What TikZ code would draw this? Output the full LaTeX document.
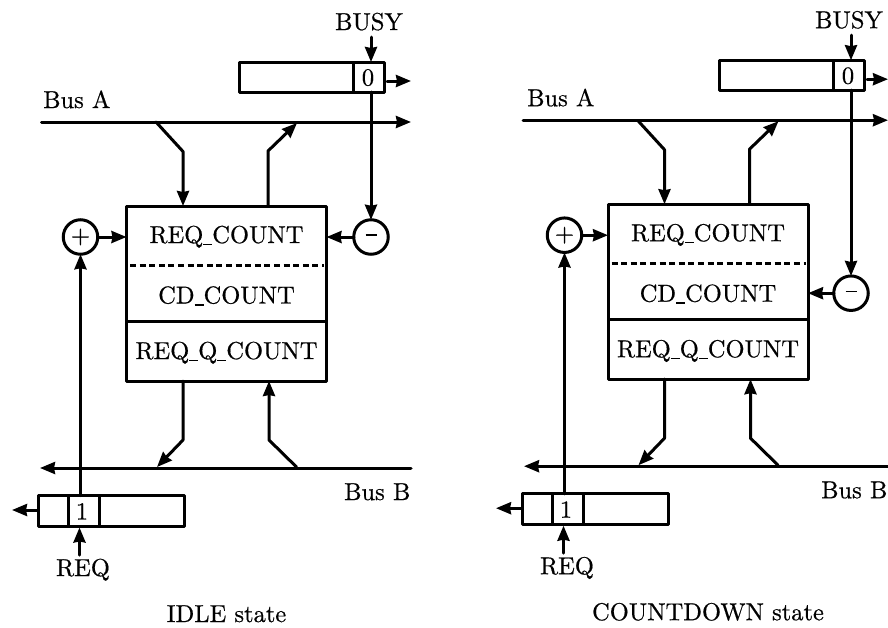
\documentclass[tikz,border=0pt]{standalone}
\usepackage{fontspec}
\newfontfamily\dfont{Latin Modern Roman}[OpticalSize=10,FakeBold=0.6]
\usetikzlibrary{arrows.meta}
\tikzset{
  x=1pt,y=-1pt,
  ln/.style={line width=3pt,line cap=round,line join=round},
  arr/.style={ln,-{Stealth[length=15pt,width=12pt,inset=1pt]}},
  frame/.style={draw,line width=3pt,line join=round,inner sep=0pt,outer sep=0pt},
  op/.style={draw,circle,line width=3pt,minimum size=34.5pt,inner sep=0pt,outer sep=0pt},
  txt/.style={font=\fontsize{24.5}{26}\dfont,inner sep=0pt,anchor=base}
}
\newcommand{\usc}{\rule[-2.2pt]{9pt}{1.6pt}}
\newcommand{\onepanel}[2]{%
  % #1 = state text, #2 = y of the minus circle
  \node[txt] (busy) at (369+\tx,30) {BUSY};
  \node[txt,anchor=base west] (busa) at (43+\lx,108) {Bus A};
  \node[txt] (req) at (83+\lx,576) {REQ};
  \coordinate (aL) at (41.5,122);
  \coordinate (aR) at (\re,122);
  \coordinate (bL) at (40+\lx,468);
  \coordinate (bS) at (\ifdim\re pt<411pt 420\else 411\fi,468);
  \draw[arr] (aL) -- (aR);
  \draw[arr] (bS) -- (bL);
  % main box
  \node[frame,minimum width=200pt,minimum height=175pt,anchor=north west] (main) at (126.5,206) {};
  \coordinate (dl) at (130,265.5); \coordinate (dr) at (324,265.5);
  \coordinate (sl) at (126.5,321.5); \coordinate (sr) at (326.5,321.5);
  \draw[line width=2.6pt,dash pattern=on 6pt off 3.6pt] (dl) -- (dr);
  \draw[line width=3pt] (sl) -- (sr);
  \node[txt] (rc) at (226.5,243) {REQ\usc COUNT};
  \node[txt] (cd) at (226.5,303.5) {CD\usc COUNT};
  \node[txt] (rq) at (226.5,359) {REQ\usc Q\usc COUNT};
  % bus A branches
  \coordinate (a1) at (156,122); \coordinate (a2) at (183,151.5); \coordinate (a3) at (183,206);
  \coordinate (a4) at (268,206); \coordinate (a5) at (268,151); \coordinate (a6) at (297,123);
  \draw[arr] (a1) -- (a2) -- (a3);
  \draw[arr] (a4) -- (a5) -- (a6);
  % bus B branches
  \coordinate (b1) at (183,381); \coordinate (b2) at (183,440); \coordinate (b3) at (157,467);
  \coordinate (b4) at (296.5,467); \coordinate (b5) at (269,440); \coordinate (b6) at (269,381);
  \draw[arr] (b1) -- (b2) -- (b3);
  \draw[arr] (b4) -- (b5) -- (b6);
  % top register
  \node[frame,minimum width=145pt,minimum height=30pt,anchor=north west] (tr) at (239+\tx,62) {};
  \coordinate (t1) at (353.5+\tx,62); \coordinate (t2) at (353.5+\tx,92);
  \draw[line width=3pt] (t1) -- (t2);
  \node[txt] (zero) at (368+\tx,85.5) {0};
  \coordinate (bu) at (371+\tx,37); \coordinate (bt) at (371+\tx,62);
  \draw[arr] (bu) -- (bt);
  \coordinate (tq) at (387+\tx,81); \coordinate (tqe) at (\re,81);
  \draw[arr] (tq) -- (tqe);
  % minus
  \node[op] (minus) at (371+\tx,#2) {};
  \node[inner sep=0pt] (minussign) at (371+\tx,#2-2) {\rule{11pt}{1.3pt}};
  \coordinate (tb) at (371+\tx,92);
  \draw[arr] (tb) -- (minus.north);
  \coordinate (mt) at (326.5,#2);
  \draw[arr] (minus.west) -- (mt);
  % plus
  \node[op] (plus) at (80.5+\lx,237) {};
  \node[font=\fontsize{25}{25}\dfont,inner sep=0pt] (plussign) at (80.5+\lx,237) {+};
  \coordinate (pt) at (126.5,237);
  \draw[arr] (plus.east) -- (pt);
  % bottom register
  \node[frame,minimum width=146pt,minimum height=31pt,anchor=north west] (br) at (38.5+\lx,495.7) {};
  \coordinate (u1) at (68+\lx,495.7); \coordinate (u2) at (68+\lx,526.7);
  \coordinate (v1) at (99+\lx,495.7); \coordinate (v2) at (99+\lx,526.7);
  \draw[line width=3pt] (u1) -- (u2) (v1) -- (v2);
  \node[txt] (one) at (82+\lx,519.5) {1};
  \coordinate (rb) at (80.5+\lx,495.7);
  \draw[arr] (rb) -- (plus.south);
  \coordinate (rqs) at (79.5+\lx,555); \coordinate (rqe) at (79.5+\lx,527.5);
  \draw[arr] (rqs) -- (rqe);
  \coordinate (lq) at (37+\lx,510); \coordinate (lqe) at (12+\lx,510);
  \draw[arr] (lq) -- (lqe);
  \node[txt,anchor=base east] (busb) at (\re-0.5,500) {Bus B};
  \node[txt] (state) at (226.5,622) {#1};
}
\begin{document}
\begin{tikzpicture}
\useasboundingbox (0,0) rectangle (888,627);
\clip (0,0) rectangle (888,627);
\begin{scope}
\def\lx{0}\def\tx{0}\def\re{411}
\onepanel{IDLE state}{237}
\end{scope}
\begin{scope}[shift={(481.5,-1.8)}]
\def\lx{2.5}\def\tx{-1.5}\def\re{406.5}
\onepanel{COUNTDOWN state}{295}
\end{scope}
\end{tikzpicture}
\end{document}
